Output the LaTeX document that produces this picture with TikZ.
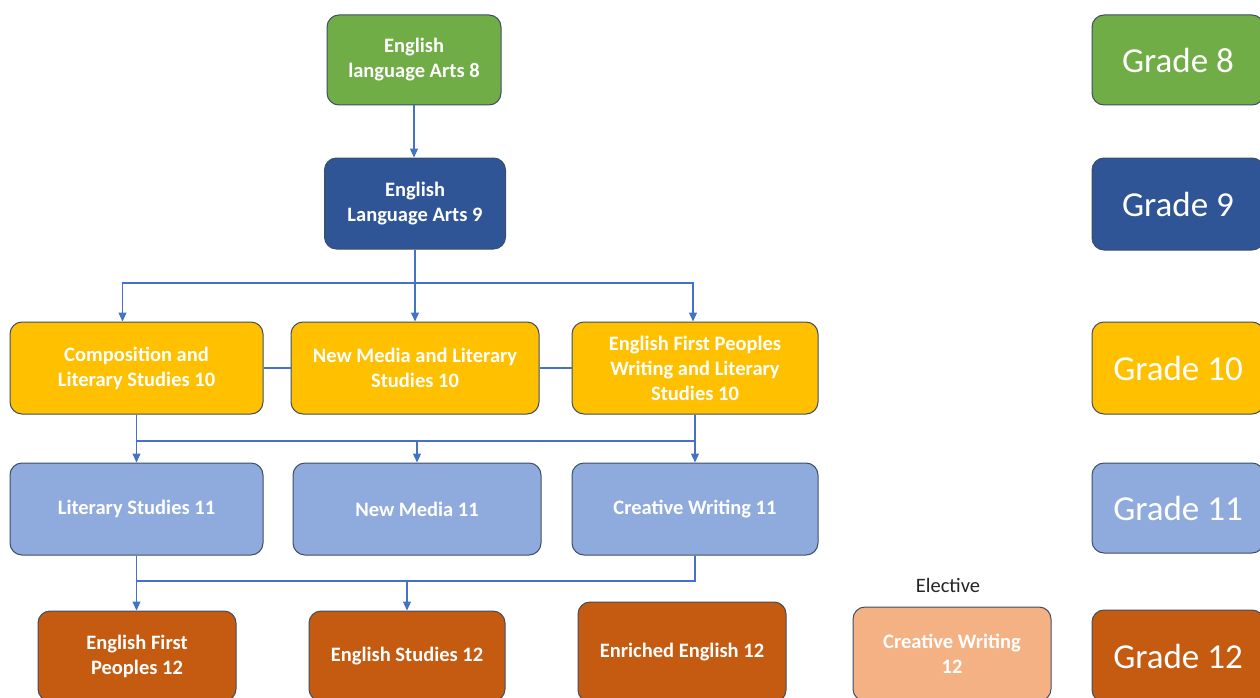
\documentclass[tikz,border=0pt]{standalone}
\usepackage{fontspec}
\setmainfont{Carlito}
\usepackage{tikz}
\usetikzlibrary{arrows.meta,positioning}

\definecolor{gr8}{HTML}{70AD47}
\definecolor{gr9}{HTML}{2F5597}
\definecolor{gr10}{HTML}{FFC000}
\definecolor{gr11}{HTML}{8FAADC}
\definecolor{gr12}{HTML}{C55A11}
\definecolor{elect}{HTML}{F4B183}
\definecolor{edge}{HTML}{3E4E66}
\definecolor{linkblue}{HTML}{4472C4}

\tikzset{
    course/.style={draw=edge, line width=1pt, rounded corners=12pt, text=white,
        align=center, inner sep=0pt, font=\fontsize{20.5}{25}\selectfont\bfseries},
    grade/.style={course, minimum width=172pt, font=\fontsize{35}{40}\selectfont},
    wire/.style={draw=linkblue, line width=1.1pt},
    link/.style={wire, -{Triangle[length=9pt,width=8pt]}}
}

\begin{document}
\begin{tikzpicture}[x=1pt,y=-1pt]
        \useasboundingbox (0,0) rectangle (1260,698);
        \fill[white] (0,0) rectangle (1260,698);
        \clip (0,0) rectangle (1260,698);

        % courses
        \node[course, fill=gr8, minimum width=174pt, minimum height=90pt] (ela8) at (414,60) {English\\language Arts 8};
        \node[course, fill=gr9, minimum width=181pt, minimum height=91pt] (ela9) at (415,203.5) {English\\Language Arts 9};

        \node[course, fill=gr10, minimum width=253pt, minimum height=92pt] (comp10) at (136.5,368) {Composition and\\Literary Studies 10};
        \node[course, fill=gr10, minimum width=248pt, minimum height=92pt] (nm10) at (415,368) {New Media and Literary\\Studies 10};
        \node[course, fill=gr10, minimum width=246pt, minimum height=92pt] (efp10) at (695,368) {English First Peoples\\Writing and Literary\\Studies 10};

        \node[course, fill=gr11, minimum width=253pt, minimum height=92pt] (lit11) at (136.5,509) {Literary Studies 11};
        \node[course, fill=gr11, minimum width=248pt, minimum height=92pt] (nm11) at (417,509) {New Media 11};
        \node[course, fill=gr11, minimum width=246pt, minimum height=92pt] (cw11) at (695,509) {Creative Writing 11};

        \node[course, fill=gr12, minimum width=198pt, minimum height=90pt] (efp12) at (137,656) {English First\\Peoples 12};
        \node[course, fill=gr12, minimum width=196pt, minimum height=90pt] (es12) at (407,656) {English Studies 12};
        \node[course, fill=gr12, minimum width=208pt, minimum height=100pt] (ee12) at (682,652) {Enriched English 12};

        \node[course, fill=elect, minimum width=198pt, minimum height=94pt] (cw12) at (952,654) {Creative Writing\\12};
        \node[font=\fontsize{20.5}{24}\selectfont, text=black!85] (elective) at (948,585) {Elective};

        % grade key
        \node[grade, fill=gr8, minimum height=90pt] (g8) at (1178,60) {Grade 8};
        \node[grade, fill=gr9, minimum height=92pt] (g9) at (1178,204) {Grade 9};
        \node[grade, fill=gr10, minimum height=92pt] (g10) at (1178,368) {Grade 10};
        \node[grade, fill=gr11, minimum height=90pt] (g11) at (1178,508) {Grade 11};
        \node[grade, fill=gr12, minimum height=92pt] (g12) at (1178,656) {Grade 12};

        % connectors
        \coordinate (bar9) at (415,283);
        \coordinate (bar10) at (0,441);
        \coordinate (bar11) at (0,581);

        \draw[link] (ela8.south) -- (ela8.south |- ela9.north);

        \draw[wire] (ela9.south) -- (bar9);
        \draw[link] (bar9) -- (nm10.north);
        \draw[link] (bar9) -| ([xshift=-14pt]comp10.north);
        \draw[link] (bar9) -| ([xshift=-2pt]efp10.north);

        \draw[wire] (comp10.east) -- (nm10.west);
        \draw[wire] (nm10.east) -- (efp10.west);

        \draw[link] (comp10.south) -- (lit11.north);
        \draw[link] (efp10.south) -- (cw11.north);
        \draw[wire] (comp10.south |- bar10) -- (efp10.south |- bar10);
        \draw[link] (nm11.north |- bar10) -- (nm11.north);

        \draw[link] (lit11.south) -- (lit11.south |- efp12.north);
        \draw[wire] (cw11.south) |- (lit11.south |- bar11);
        \draw[link] (es12.north |- bar11) -- (es12.north);
    \end{tikzpicture}
\end{document}
